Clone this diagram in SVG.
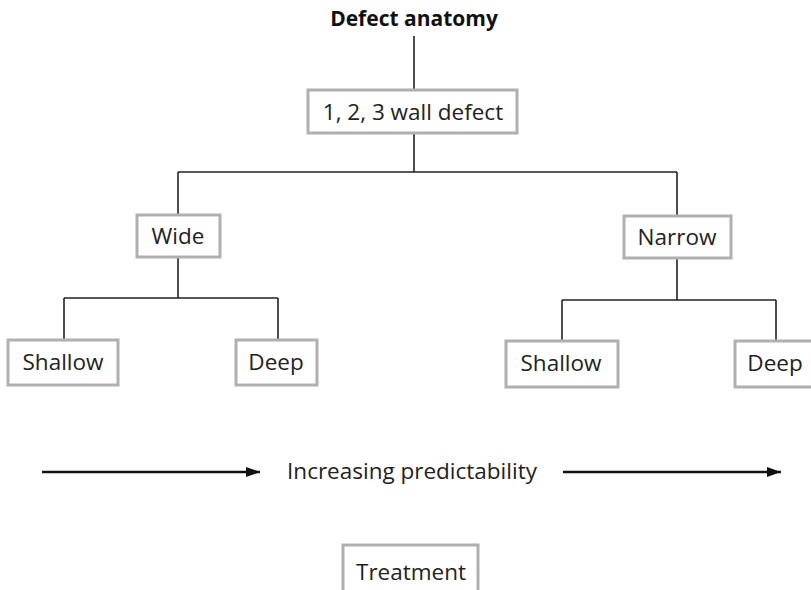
<svg xmlns="http://www.w3.org/2000/svg" width="811" height="590" viewBox="0 0 811 590">
<defs>
<style>
.box{fill:#fff;stroke:#b0b0b0;stroke-width:3}
.t{font-family:"Open Sans","Noto Sans",sans-serif;font-size:22.5px;fill:#222;text-anchor:middle}
.h{font-family:"Open Sans","Noto Sans",sans-serif;font-size:21px;font-weight:bold;fill:#111;text-anchor:middle}
.c{stroke:#222;stroke-width:1.6;fill:none}
.a{stroke:#111;stroke-width:2.4;fill:none}
</style>
<marker id="ah" viewBox="0 0 14 10" refX="14" refY="5" markerWidth="14" markerHeight="10" markerUnits="userSpaceOnUse" orient="auto"><path d="M0,0L14,5L0,10z" fill="#111"/></marker>
</defs>
<rect width="811" height="590" fill="#fff"/>
<g id="connectors">
<path class="c" d="M414,36V90M414,133V172M178,172H677M178,172V215M677,172V216M178,257V298M64,298H278M64,298V340M278,298V340M677,258V300M562,300H776M562,300V341M776,300V341"/>
<path class="a" d="M42,472H260" marker-end="url(#ah)"/>
<path class="a" d="M563,472H781" marker-end="url(#ah)"/>
</g>
<g id="title"><text class="h" x="414" y="26">Defect anatomy</text></g>
<g id="wall"><rect class="box" x="308" y="90" width="209" height="43"/><text class="t" x="413" y="120">1, 2, 3 wall defect</text></g>
<g id="wide"><rect class="box" x="137" y="215" width="83" height="42"/><text class="t" x="178" y="244">Wide</text></g>
<g id="narrow"><rect class="box" x="624" y="216" width="107" height="42"/><text class="t" x="677" y="245">Narrow</text></g>
<g id="shallow1"><rect class="box" x="8" y="340" width="110" height="45"/><text class="t" x="63" y="370">Shallow</text></g>
<g id="deep1"><rect class="box" x="236" y="340" width="81" height="45"/><text class="t" x="276" y="370">Deep</text></g>
<g id="shallow2"><rect class="box" x="506" y="341" width="112" height="46"/><text class="t" x="561" y="371">Shallow</text></g>
<g id="deep2"><rect class="box" x="735" y="341" width="90" height="46"/><text class="t" x="775" y="371">Deep</text></g>
<g id="predict"><text class="t" x="412" y="479">Increasing predictability</text></g>
<g id="treatment"><rect class="box" x="343" y="545" width="135" height="50"/><text class="t" x="411" y="580">Treatment</text></g>
</svg>
